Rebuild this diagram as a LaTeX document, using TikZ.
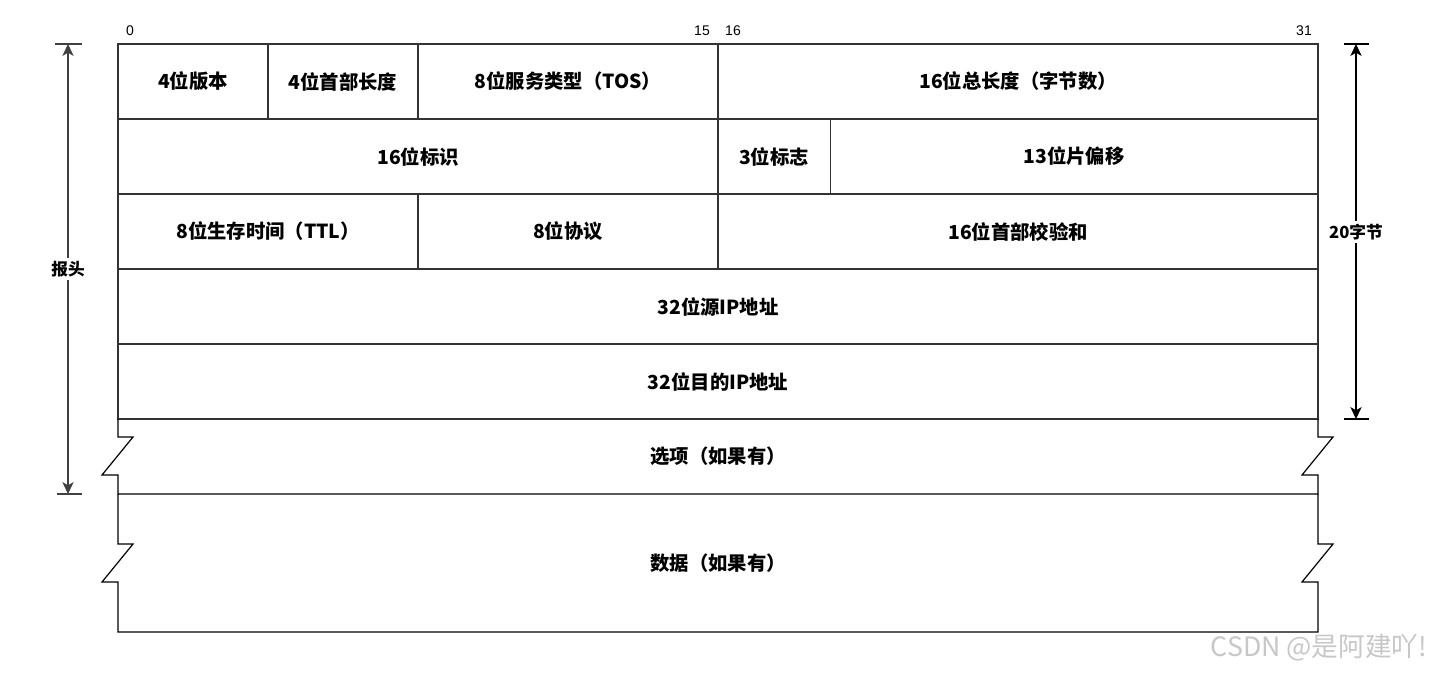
\documentclass[tikz,border=0pt]{standalone}
\usepackage{fontspec}
\setmainfont{Noto Sans CJK SC}
\newfontfamily\bitfont{Liberation Sans}
\usetikzlibrary{arrows.meta}

\begin{document}
\begin{tikzpicture}[x=0.75pt,y=-0.75pt,line width=0.9pt,
  field/.style={font=\bfseries\fontsize{14.5}{16}\selectfont,inner sep=0pt},
  bit/.style={font=\bitfont\fontsize{10.5}{12}\selectfont,inner sep=0pt},
  dim/.style={line width=0.8pt,black!75,{Stealth[length=9pt,width=8.5pt,inset=2.5pt]}-{Stealth[length=9pt,width=8.5pt,inset=2.5pt]}},
  dim label/.style={fill=white,text=black,font=\bfseries\fontsize{12.5}{14}\selectfont,inner sep=2pt}]

  \useasboundingbox (0,0) rectangle (1432,674);

  % header rows
  \draw[black!80] (118,44) rectangle (1318,419);
  \draw[black!80] (118,119) -- (1318,119) (118,194) -- (1318,194)
    (118,269) -- (1318,269) (118,344) -- (1318,344);
  \draw[black!80] (268,44) -- (268,119) (418,44) -- (418,119)
    (718,44) -- (718,269) (830.5,119) -- (830.5,194) (418,194) -- (418,269);

  % options and data, broken at the sides
  \draw (118,419) -- (118,437) -- (133,437) -- (102,475) -- (118,475) -- (118,494)
    -- (1318,494) -- (1318,475) -- (1302,475) -- (1333,437) -- (1318,437) -- (1318,419);
  \draw (118,494) -- (118,544) -- (133,544) -- (102,582) -- (118,582) -- (118,632)
    -- (1318,632) -- (1318,582) -- (1302,582) -- (1333,544) -- (1318,544) -- (1318,494);

  % bit positions
  \node[bit] (b0) at (130,31) {0};
  \node[bit] (b15) at (702,31) {15};
  \node[bit] (b16) at (733,31) {16};
  \node[bit] (b31) at (1304,31) {31};

  % fields
  \node[field] (ver) at (193,81.5) {4位版本};
  \node[field] (ihl) at (343,81.5) {4位首部长度};
  \node[field] (tos) at (568,81.5) {8位服务类型（TOS）};
  \node[field] (len) at (1018,81.5) {16位总长度（字节数）};
  \node[field] (id) at (418,156.5) {16位标识};
  \node[field] (flag) at (774,156.5) {3位标志};
  \node[field] (frag) at (1074,156.5) {13位片偏移};
  \node[field] (ttl) at (268,231.5) {8位生存时间（TTL）};
  \node[field] (proto) at (568,231.5) {8位协议};
  \node[field] (sum) at (1018,231.5) {16位首部校验和};
  \node[field] (src) at (718,306.5) {32位源IP地址};
  \node[field] (dst) at (718,381.5) {32位目的IP地址};
  \node[field] (opt) at (718,456.5) {选项（如果有）};
  \node[field] (data) at (718,563) {数据（如果有）};

  % header size marks
  \draw[black!75] (55,44) -- (82,44) (57,494) -- (82,494);
  \draw[black] (1344,44) -- (1369,44) (1344,419) -- (1369,419);
  \coordinate (hdtop) at (68,44);
  \coordinate (hdbot) at (68,494);
  \coordinate (fixtop) at (1356,44);
  \coordinate (fixbot) at (1356,419);
  \draw[dim] (hdtop) -- node[dim label] (hdr) {报头} (hdbot);
  \draw[dim,black] (fixtop) -- node[dim label,pos=0.501] (fix) {20字节} (fixbot);

  \node[font=\fontsize{20}{22}\selectfont,text=black!22,inner sep=0pt] (mark) at (1319,648) {CSDN @是阿建吖!};
\end{tikzpicture}
\end{document}
